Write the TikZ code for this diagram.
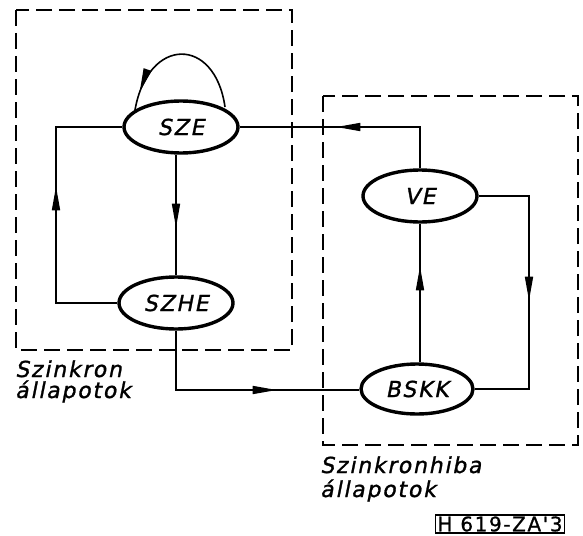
\documentclass[tikz,border=0pt]{standalone}
\usepackage{fontspec}
\setmainfont{DejaVu Sans}
\newfontfamily\labfont[FakeSlant=0.2,LetterSpace=8,FakeBold=1.2]{DejaVu Sans}
\newfontfamily\codefont[LetterSpace=8,FakeBold=1]{DejaVu Sans}
\usetikzlibrary{shapes.geometric,arrows.meta,decorations.markings}
\tikzset{
  state/.style={ellipse,draw,line width=3.4pt,minimum width=114pt,minimum height=52pt,inner sep=0pt,
    font=\labfont\fontsize{22}{26}\selectfont},
  conn/.style={line width=1.6pt},
  grp/.style={line width=1.6pt,dash pattern=on 16pt off 7pt},
  lbl/.style={anchor=base west,inner sep=0pt,font=\labfont\fontsize{22}{26}\selectfont},
  marr/.style={postaction={decorate},decoration={markings,
    mark=at position #1 with {\arrow{Triangle[length=24pt,width=8pt]}}}}
}
\begin{document}
\begin{tikzpicture}[x=1pt,y=-1pt]
\useasboundingbox (0,0) rectangle (583,535);
% group boxes
\draw[grp] (16,10) rectangle (292,350);
\draw[grp] (323,96) rectangle (578,445);
% states
\node[state] (sze) at (181,127) {SZE};
\node[state] (szhe) at (176,303) {SZHE};
\node[state] (ve) at (420,196) {VE};
\node[state,minimum width=112pt,minimum height=50pt] (bskk) at (417,389) {BSKK};
% corner coordinates
\coordinate (c1) at (56,303);
\coordinate (c2) at (56,127);
\coordinate (c3) at (420,127);
\coordinate (c4) at (176,390);
\coordinate (c5) at (529,196);
\coordinate (c6) at (529,389);
\coordinate (l1) at (225,107);
\coordinate (l2) at (135,110);
% connectors
\draw[conn,marr=178pt] (szhe.west) -- (c1) -- (c2) -- (sze.west);
\draw[conn,marr=73pt] (szhe.north |- sze.south) -- (szhe.north);
\draw[conn,marr=125pt] (ve.north) -- (c3) -- (sze.east);
\draw[conn,marr=160pt] (szhe.south) -- (c4) -- (c4 -| bskk.west);
\draw[conn,marr=96pt] (ve.south |- bskk.north) -- (ve.south);
\draw[conn,marr=155pt] (ve.east) -- (c5) -- (c6) -- (bskk.east);
\draw[conn,marr=0.88] (l1) .. controls (215,36) and (148,36) .. (l2);
% labels
\node[lbl] (t1) at (15,377) {Szinkron};
\node[lbl] (t2) at (15,398) {állapotok};
\node[lbl] (t3) at (320,473) {Szinkronhiba};
\node[lbl] (t4) at (320,497) {állapotok};
\node[draw,line width=1.6pt,inner xsep=2pt,inner ysep=1.5pt,font=\codefont\fontsize{20}{22}\selectfont] (code) at (500,524) {H 619-ZA'3};
\end{tikzpicture}
\end{document}
